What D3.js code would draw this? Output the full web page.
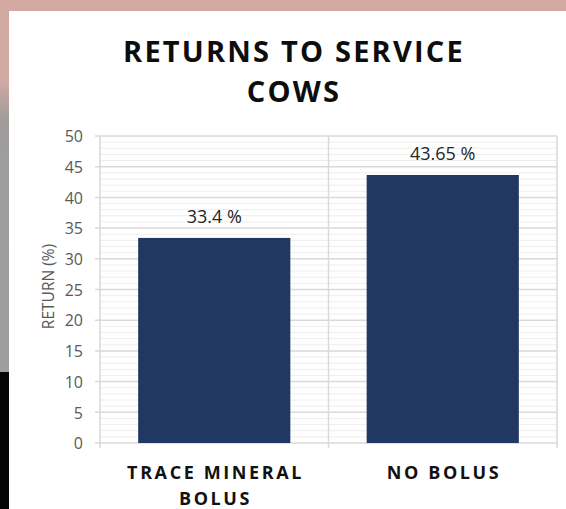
<!DOCTYPE html>
<html>
<head>
<meta charset="utf-8">
<script src="https://cdn.jsdelivr.net/npm/d3@7"></script>
<style>
  body { margin: 0; background: #fff; }
  svg { display: block; }
</style>
</head>
<body>
<div id="chart"></div>
<script>
"use strict";

// chart data
var categories = [["TRACE MINERAL", "BOLUS"], ["NO BOLUS"]];
var values = [33.4, 43.65];
var valueLabels = ["33.4 %", "43.65 %"];
var yTicks = [0, 5, 10, 15, 20, 25, 30, 35, 40, 45, 50];
var titleLines = ["RETURNS TO SERVICE", "COWS"];

var W = 566, H = 509;
var plot = { left: 100, right: 557, top: 136, bottom: 443 };

var svg = d3.select("#chart").append("svg").attr("width", W).attr("height", H);

// slide background around the white panel
var bg = svg.append("defs").append("linearGradient")
  .attr("id", "side").attr("x1", 0).attr("x2", 0).attr("y1", 0).attr("y2", 1);
bg.append("stop").attr("offset", "0").attr("stop-color", "#d3aaa3");
bg.append("stop").attr("offset", "0.22").attr("stop-color", "#d0a9a3");
bg.append("stop").attr("offset", "0.32").attr("stop-color", "#a09c9c");
bg.append("stop").attr("offset", "1").attr("stop-color", "#9e9e9e");

svg.append("rect").attr("width", W).attr("height", H).attr("fill", "#d3aaa3");
svg.append("rect").attr("x", 0).attr("y", 0).attr("width", 9).attr("height", 372).attr("fill", "url(#side)");
svg.append("rect").attr("x", 0).attr("y", 372).attr("width", 9).attr("height", H - 372).attr("fill", "#050505");
svg.append("rect").attr("x", 9).attr("y", 11).attr("width", W - 9).attr("height", H - 11).attr("fill", "#ffffff");

var x = d3.scaleBand()
  .domain(d3.range(values.length))
  .range([plot.left, plot.right])
  .paddingInner(0.334).paddingOuter(0.167);

var y = d3.scaleLinear().domain([0, 50]).range([plot.bottom, plot.top]);

// minor gridlines every 1 unit
var grid = svg.append("g");
grid.selectAll(".minor").data(d3.range(1, 50).filter(function(d) { return d % 5 !== 0; }))
  .enter().append("line").classed("minor", true)
  .attr("x1", plot.left).attr("x2", plot.right)
  .attr("y1", function(d) { return y(d); }).attr("y2", function(d) { return y(d); })
  .attr("stroke", "#eeeeee").attr("stroke-width", 1);

// major gridlines + ticks
grid.selectAll(".major").data(yTicks).enter().append("line").classed("major", true)
  .attr("x1", plot.left - 5).attr("x2", plot.right)
  .attr("y1", function(d) { return y(d); }).attr("y2", function(d) { return y(d); })
  .attr("stroke", "#d9d9d9").attr("stroke-width", 1.5);

// vertical category dividers
var dividers = [plot.left, (plot.left + plot.right) / 2, plot.right];
grid.selectAll(".vdiv").data(dividers).enter().append("line").classed("vdiv", true)
  .attr("x1", function(d) { return d; }).attr("x2", function(d) { return d; })
  .attr("y1", plot.top).attr("y2", plot.bottom + 5)
  .attr("stroke", "#d9d9d9").attr("stroke-width", 1.5);

// bars
svg.selectAll(".bar").data(values).enter().append("rect").classed("bar", true)
  .attr("x", function(d, i) { return x(i); })
  .attr("width", x.bandwidth())
  .attr("y", function(d) { return y(d); })
  .attr("height", function(d) { return y(0) - y(d); })
  .attr("fill", "#213862");

// value labels
svg.selectAll(".vlabel").data(values).enter().append("text").classed("vlabel", true)
  .attr("x", function(d, i) { return x(i) + x.bandwidth() / 2; })
  .attr("y", function(d) { return y(d) - 15; })
  .attr("text-anchor", "middle")
  .attr("font-family", "Open Sans, sans-serif").attr("font-size", 18)
  .attr("fill", "#262626")
  .text(function(d, i) { return valueLabels[i]; });

// y axis labels
var yAxis = d3.axisLeft(y).tickValues(yTicks).tickSize(0).tickPadding(0);
var yg = svg.append("g").attr("transform", "translate(83,0)").call(yAxis);
yg.select(".domain").remove();
yg.selectAll("text")
  .attr("font-family", "Open Sans, sans-serif").attr("font-size", 16)
  .attr("fill", "#595959").attr("dy", "0.36em");

// y axis title
svg.append("text")
  .attr("transform", "translate(54," + ((plot.top + plot.bottom) / 2 - 3) + ") rotate(-90)")
  .attr("text-anchor", "middle")
  .attr("font-family", "Open Sans, sans-serif").attr("font-size", 15.5)
  .attr("fill", "#595959")
  .text("RETURN (%)");

// category labels
var xl = svg.selectAll(".xlabel").data(categories).enter().append("text").classed("xlabel", true)
  .attr("text-anchor", "middle")
  .attr("font-family", "Open Sans, sans-serif").attr("font-weight", "bold").attr("font-size", 18)
  .attr("letter-spacing", 2.6)
  .attr("fill", "#111");
xl.selectAll("tspan").data(function(d, i) { return d.map(function(t) { return { t: t, i: i }; }); })
  .enter().append("tspan")
  .attr("x", function(d) { return x(d.i) + x.bandwidth() / 2 + 1.3; })
  .attr("y", function(d, j) { return 479 + j * 26; })
  .text(function(d) { return d.t; });

// title
svg.append("text")
  .attr("text-anchor", "middle")
  .attr("font-family", "Open Sans, sans-serif").attr("font-weight", "bold").attr("font-size", 29)
  .attr("letter-spacing", 2.2)
  .attr("fill", "#0d0d0d")
  .selectAll("tspan").data(titleLines).enter().append("tspan")
  .attr("x", 294)
  .attr("y", function(d, i) { return 62 + i * 40; })
  .text(function(d) { return d; });
</script>
</body>
</html>
